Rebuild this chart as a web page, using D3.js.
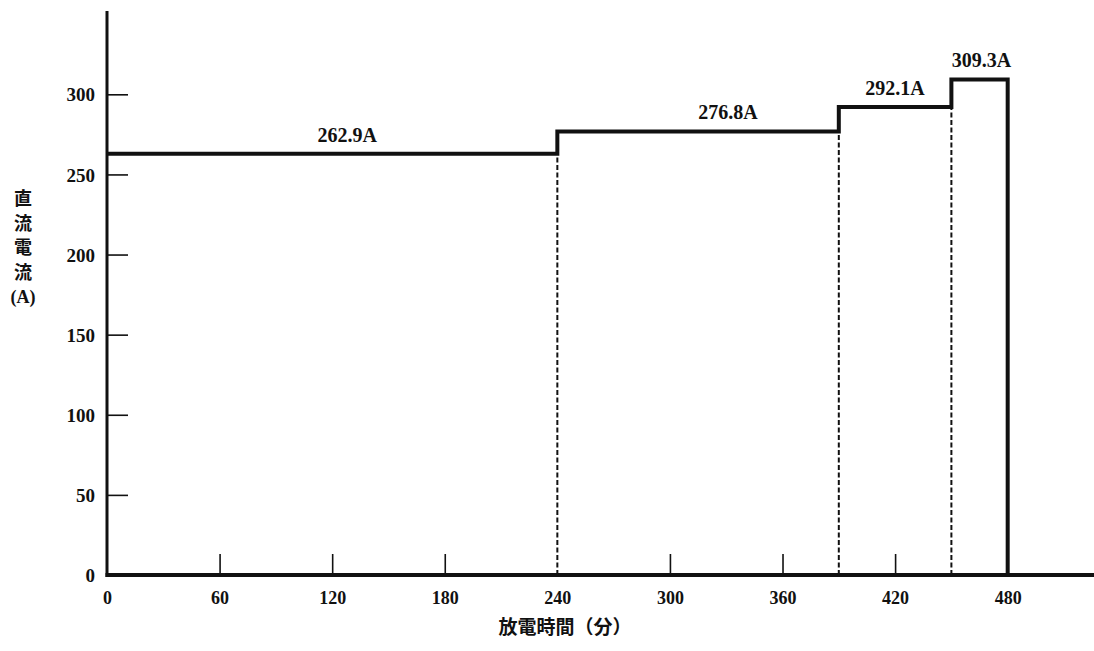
<!DOCTYPE html>
<html><head><meta charset="utf-8">
<script src="https://cdn.jsdelivr.net/npm/d3@7"></script>
<style>
html,body{margin:0;padding:0;background:#fff;}
svg{display:block;}
.num{font-family:"Liberation Serif","DejaVu Serif",serif;font-weight:bold;fill:#111;}
.cjk{font-family:"Noto Sans CJK JP","Noto Sans CJK SC",sans-serif;font-weight:bold;fill:#111;}
</style></head>
<body>
<svg id="chart" width="1094" height="651"></svg>
<script>
// ---- data ----
const stepStarts = [0, 240, 390, 450];      // minutes where each current level starts
const stepEnd = 480;                         // discharge end (minutes)
const currents = [262.9, 276.8, 292.1, 309.3]; // DC current (A)
const currentLabels = ["262.9A", "276.8A", "292.1A", "309.3A"];
const labelAt = [128, 331, 420, 466];        // minute at which each label is centred
const xTicks = [0, 60, 120, 180, 240, 300, 360, 420, 480];
const xTickMarks = [60, 120, 180, 300, 360, 420];
const yTicks = [0, 50, 100, 150, 200, 250, 300];
const xTitle = "放電時間（分）";
const yTitleChars = ["直", "流", "電", "流", "(A)"];

// ---- layout ----
const svg = d3.select("#chart");
const x = d3.scaleLinear().domain([0, 526]).range([107, 1094]);
const y = d3.scaleLinear().domain([0, 352]).range([575, 11]);

// y axis
const yAxis = d3.axisLeft(y).tickValues(yTicks).tickSize(-21).tickFormat(d3.format("d"));
const gy = svg.append("g").attr("transform", `translate(${x(0)},0)`).call(yAxis);
gy.select(".domain").remove();
gy.selectAll(".tick line").attr("stroke", "#111").attr("stroke-width", 1.6)
  .filter(d => d === 0).remove();
gy.selectAll(".tick text").attr("class", "num").attr("font-size", 19).attr("text-anchor", "end")
  .attr("x", -12).attr("dy", "0.35em");

// x axis
const xAxis = d3.axisBottom(x).tickValues(xTicks).tickSize(-21).tickFormat(d3.format("d"));
const gx = svg.append("g").attr("transform", `translate(0,${y(0)})`).call(xAxis);
gx.select(".domain").remove();
gx.selectAll(".tick line").attr("stroke", "#111").attr("stroke-width", 1.6)
  .filter(d => !xTickMarks.includes(d)).remove();
gx.selectAll(".tick text").attr("class", "num").attr("font-size", 18)
  .attr("y", 29).attr("dy", 0);

// axis lines
svg.append("line").attr("x1", x(0)).attr("x2", x(0)).attr("y1", y(0) + 2).attr("y2", y(352))
  .attr("stroke", "#111").attr("stroke-width", 3);
svg.append("line").attr("x1", x(0) - 1.5).attr("x2", x(526)).attr("y1", y(0)).attr("y2", y(0))
  .attr("stroke", "#111").attr("stroke-width", 4);

// dashed guides at level changes
const changes = stepStarts.slice(1).map((t, i) => ({t, v: currents[i]}));
svg.append("g").selectAll("line").data(changes).join("line")
  .attr("x1", d => x(d.t)).attr("x2", d => x(d.t))
  .attr("y1", y(0)).attr("y2", d => y(d.v))
  .attr("stroke", "#111").attr("stroke-width", 2).attr("stroke-dasharray", "5,2.5");

// step line
const pts = stepStarts.map((t, i) => [t, currents[i]]);
pts.push([stepEnd, currents[currents.length - 1]]);
pts.push([stepEnd, 0]);
const line = d3.line().x(d => x(d[0])).y(d => y(d[1])).curve(d3.curveStepAfter);
svg.append("path").attr("d", line(pts)).attr("fill", "none")
  .attr("stroke", "#111").attr("stroke-width", 4).attr("stroke-linejoin", "miter");

// value labels
svg.append("g").selectAll("text").data(currentLabels).join("text")
  .attr("class", "num").attr("font-size", 20).attr("text-anchor", "middle")
  .attr("x", (d, i) => x(labelAt[i])).attr("y", (d, i) => y(currents[i]) - 12)
  .text(d => d);

// titles
svg.append("text").attr("class", "cjk").attr("font-size", 19).attr("text-anchor", "middle")
  .attr("x", 565).attr("y", 634).text(xTitle);
svg.append("g").selectAll("text").data(yTitleChars).join("text")
  .attr("class", (d, i) => i === yTitleChars.length - 1 ? "num" : "cjk")
  .attr("font-size", 18).attr("text-anchor", "middle")
  .attr("x", 23).attr("y", (d, i) => 205 + i * 24.5).text(d => d);
</script>
</body></html>
